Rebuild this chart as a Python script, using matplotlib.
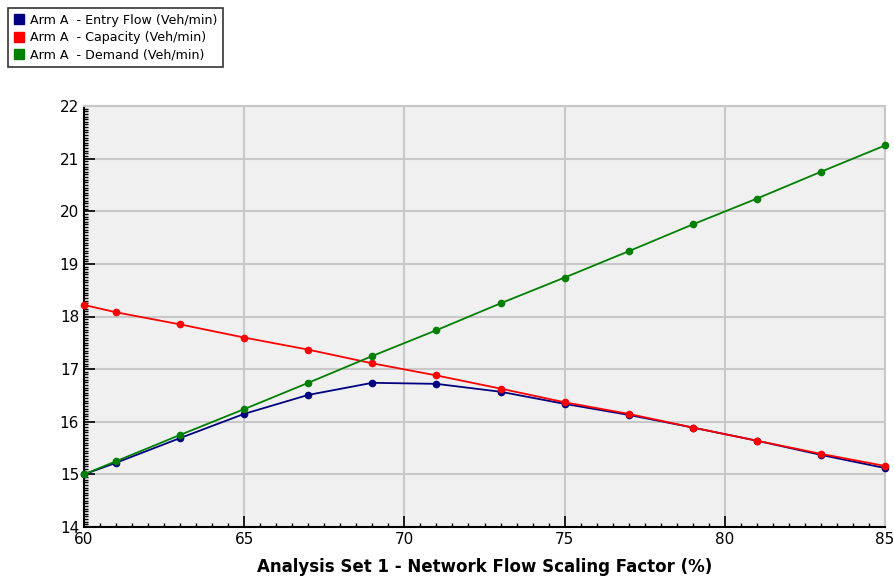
import matplotlib
matplotlib.use('Agg')
import matplotlib.pyplot as plt
from matplotlib.lines import Line2D
from matplotlib.ticker import MultipleLocator

# ── Data ────────────────────────────────────────────────────────────────────
scaling = [60, 61, 63, 65, 67, 69, 71, 73, 75, 77, 79, 81, 83, 85]
entry_flow = [15.00, 15.22, 15.69, 16.15, 16.51, 16.74, 16.72, 16.57,
              16.34, 16.13, 15.89, 15.64, 15.37, 15.12]
capacity = [18.22, 18.08, 17.85, 17.60, 17.37, 17.11, 16.88, 16.63,
            16.37, 16.15, 15.89, 15.64, 15.39, 15.16]
demand = [15.00, 15.25, 15.75, 16.24, 16.74, 17.25, 17.74, 18.25,
          18.74, 19.24, 19.75, 20.24, 20.75, 21.25]

series_labels = ['Arm A  - Entry Flow (Veh/min)',
                 'Arm A  - Capacity (Veh/min)',
                 'Arm A  - Demand (Veh/min)']
series_colors = ['#000080', '#ff0000', '#008000']
x_label = 'Analysis Set 1 - Network Flow Scaling Factor (%)'

fig = plt.figure(figsize=(8.95, 5.81), dpi=100)
ax = fig.add_axes([84 / 895, 1 - 527 / 581, 801 / 895, 421 / 581])
ax.set_facecolor('#f0f0f0')

for values, color in zip([entry_flow, capacity, demand], series_colors):
    ax.plot(scaling, values, color=color, lw=1.3, marker='o', ms=4.5,
            clip_on=False, zorder=3)

ax.set_xlim(60, 85)
ax.set_ylim(14, 22)
ax.xaxis.set_major_locator(MultipleLocator(5))
ax.xaxis.set_minor_locator(MultipleLocator(0.5))
ax.yaxis.set_major_locator(MultipleLocator(1))
ax.yaxis.set_minor_locator(MultipleLocator(0.05))
ax.tick_params(which='both', direction='in', labelsize=11, color='black')
ax.tick_params(which='major', length=8, width=1.2)
ax.tick_params(which='minor', length=3, width=1)
ax.grid(which='major', color='#c8c8c8', lw=1.5, zorder=0)
ax.set_axisbelow(True)

for side in ('top', 'right'):
    ax.spines[side].set_color('#c8c8c8')
    ax.spines[side].set_linewidth(1.5)
for side in ('left', 'bottom'):
    ax.spines[side].set_color('black')
    ax.spines[side].set_linewidth(1.5)

ax.set_xlabel(x_label, fontsize=12, fontweight='bold', labelpad=8)

handles = [Line2D([], [], ls='none', marker='s', ms=7, color=c)
           for c in series_colors]
leg = fig.legend(handles, series_labels, loc='upper left',
                 bbox_to_anchor=(8 / 895, 1 - 8 / 581), fontsize=9.1,
                 frameon=True, fancybox=False, handlelength=0.8,
                 handletextpad=0.5, borderpad=0.45, labelspacing=0.35,
                 borderaxespad=0)
leg.get_frame().set_edgecolor('black')
leg.get_frame().set_linewidth(1.2)

fig.savefig('out.png', dpi=100)
